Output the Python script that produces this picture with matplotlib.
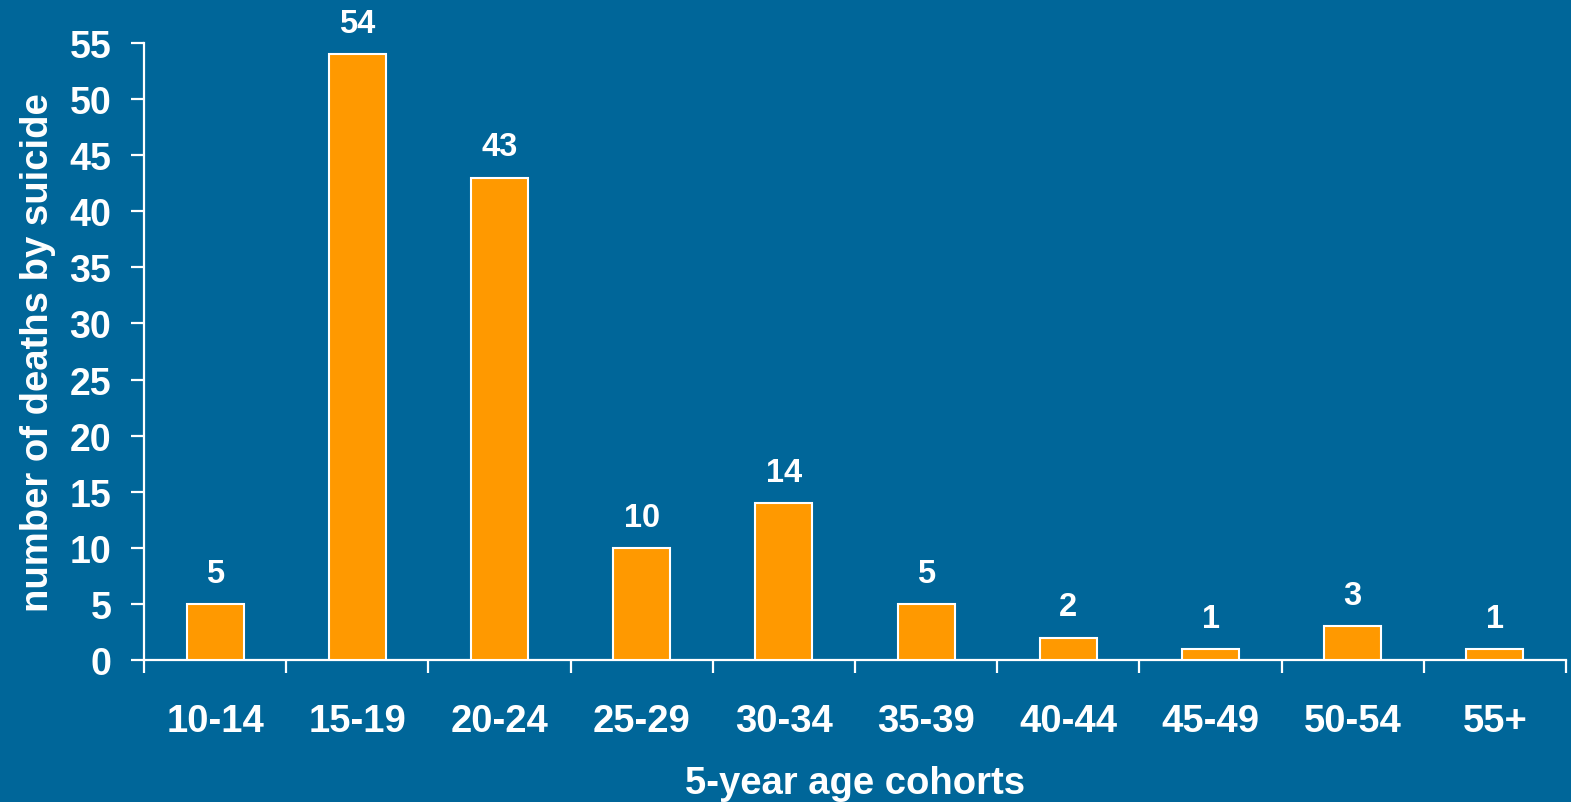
import matplotlib
matplotlib.use("Agg")
import matplotlib.pyplot as plt
import numpy as np

categories = ["10-14", "15-19", "20-24", "25-29", "30-34", "35-39", "40-44", "45-49", "50-54", "55+"]
values = [5, 54, 43, 10, 14, 5, 2, 1, 3, 1]
yticks = [0, 5, 10, 15, 20, 25, 30, 35, 40, 45, 50, 55]

BG = "#006699"
ORANGE = "#FF9900"
plt.rcParams['font.family'] = ['Liberation Sans', 'DejaVu Sans']
plt.rcParams['font.weight'] = 'bold'

fig = plt.figure(figsize=(15.71, 8.03), dpi=100, facecolor=BG)
ax = fig.add_axes([144/1571, 142/803, (1566-144)/1571, (661-44)/803])
ax.set_facecolor(BG)

x = np.arange(len(categories))
ax.bar(x, values, width=0.4, color=ORANGE, edgecolor="white", linewidth=1.5, zorder=3)
for xi, v in zip(x, values):
    ax.annotate(str(v), (xi, v), xytext=(0, 11), textcoords="offset points",
                ha="center", va="bottom", color="white", fontsize=23.5, fontweight="bold")

ax.set_xlim(-0.5, len(categories) - 0.5)
ax.set_ylim(0, 55)
ax.set_yticks(yticks)
ax.set_yticklabels([str(t) for t in yticks], fontsize=27, fontweight="bold", color="white")
ax.set_xticks(x)
ax.set_xticklabels(categories, fontsize=27.5, fontweight="bold", color="white")
ax.tick_params(axis="x", which="major", length=0, pad=31)
ax.set_xticks(np.arange(-0.5, len(categories)), minor=True)
ax.tick_params(axis="x", which="minor", length=9.5, width=1.6, color="white", direction="out")
ax.tick_params(axis="y", length=9.5, width=1.6, color="white", direction="out", pad=14)

for s in ["top", "right"]:
    ax.spines[s].set_visible(False)
for s in ["left", "bottom"]:
    ax.spines[s].set_color("white")
    ax.spines[s].set_linewidth(1.6)

ax.set_ylabel("number of deaths by suicide", fontsize=27.5, fontweight="bold", color="white", labelpad=10)
ax.set_xlabel("5-year age cohorts", fontsize=27.5, fontweight="bold", color="white", labelpad=19)

fig.savefig("out.png", dpi=100, facecolor=BG)
